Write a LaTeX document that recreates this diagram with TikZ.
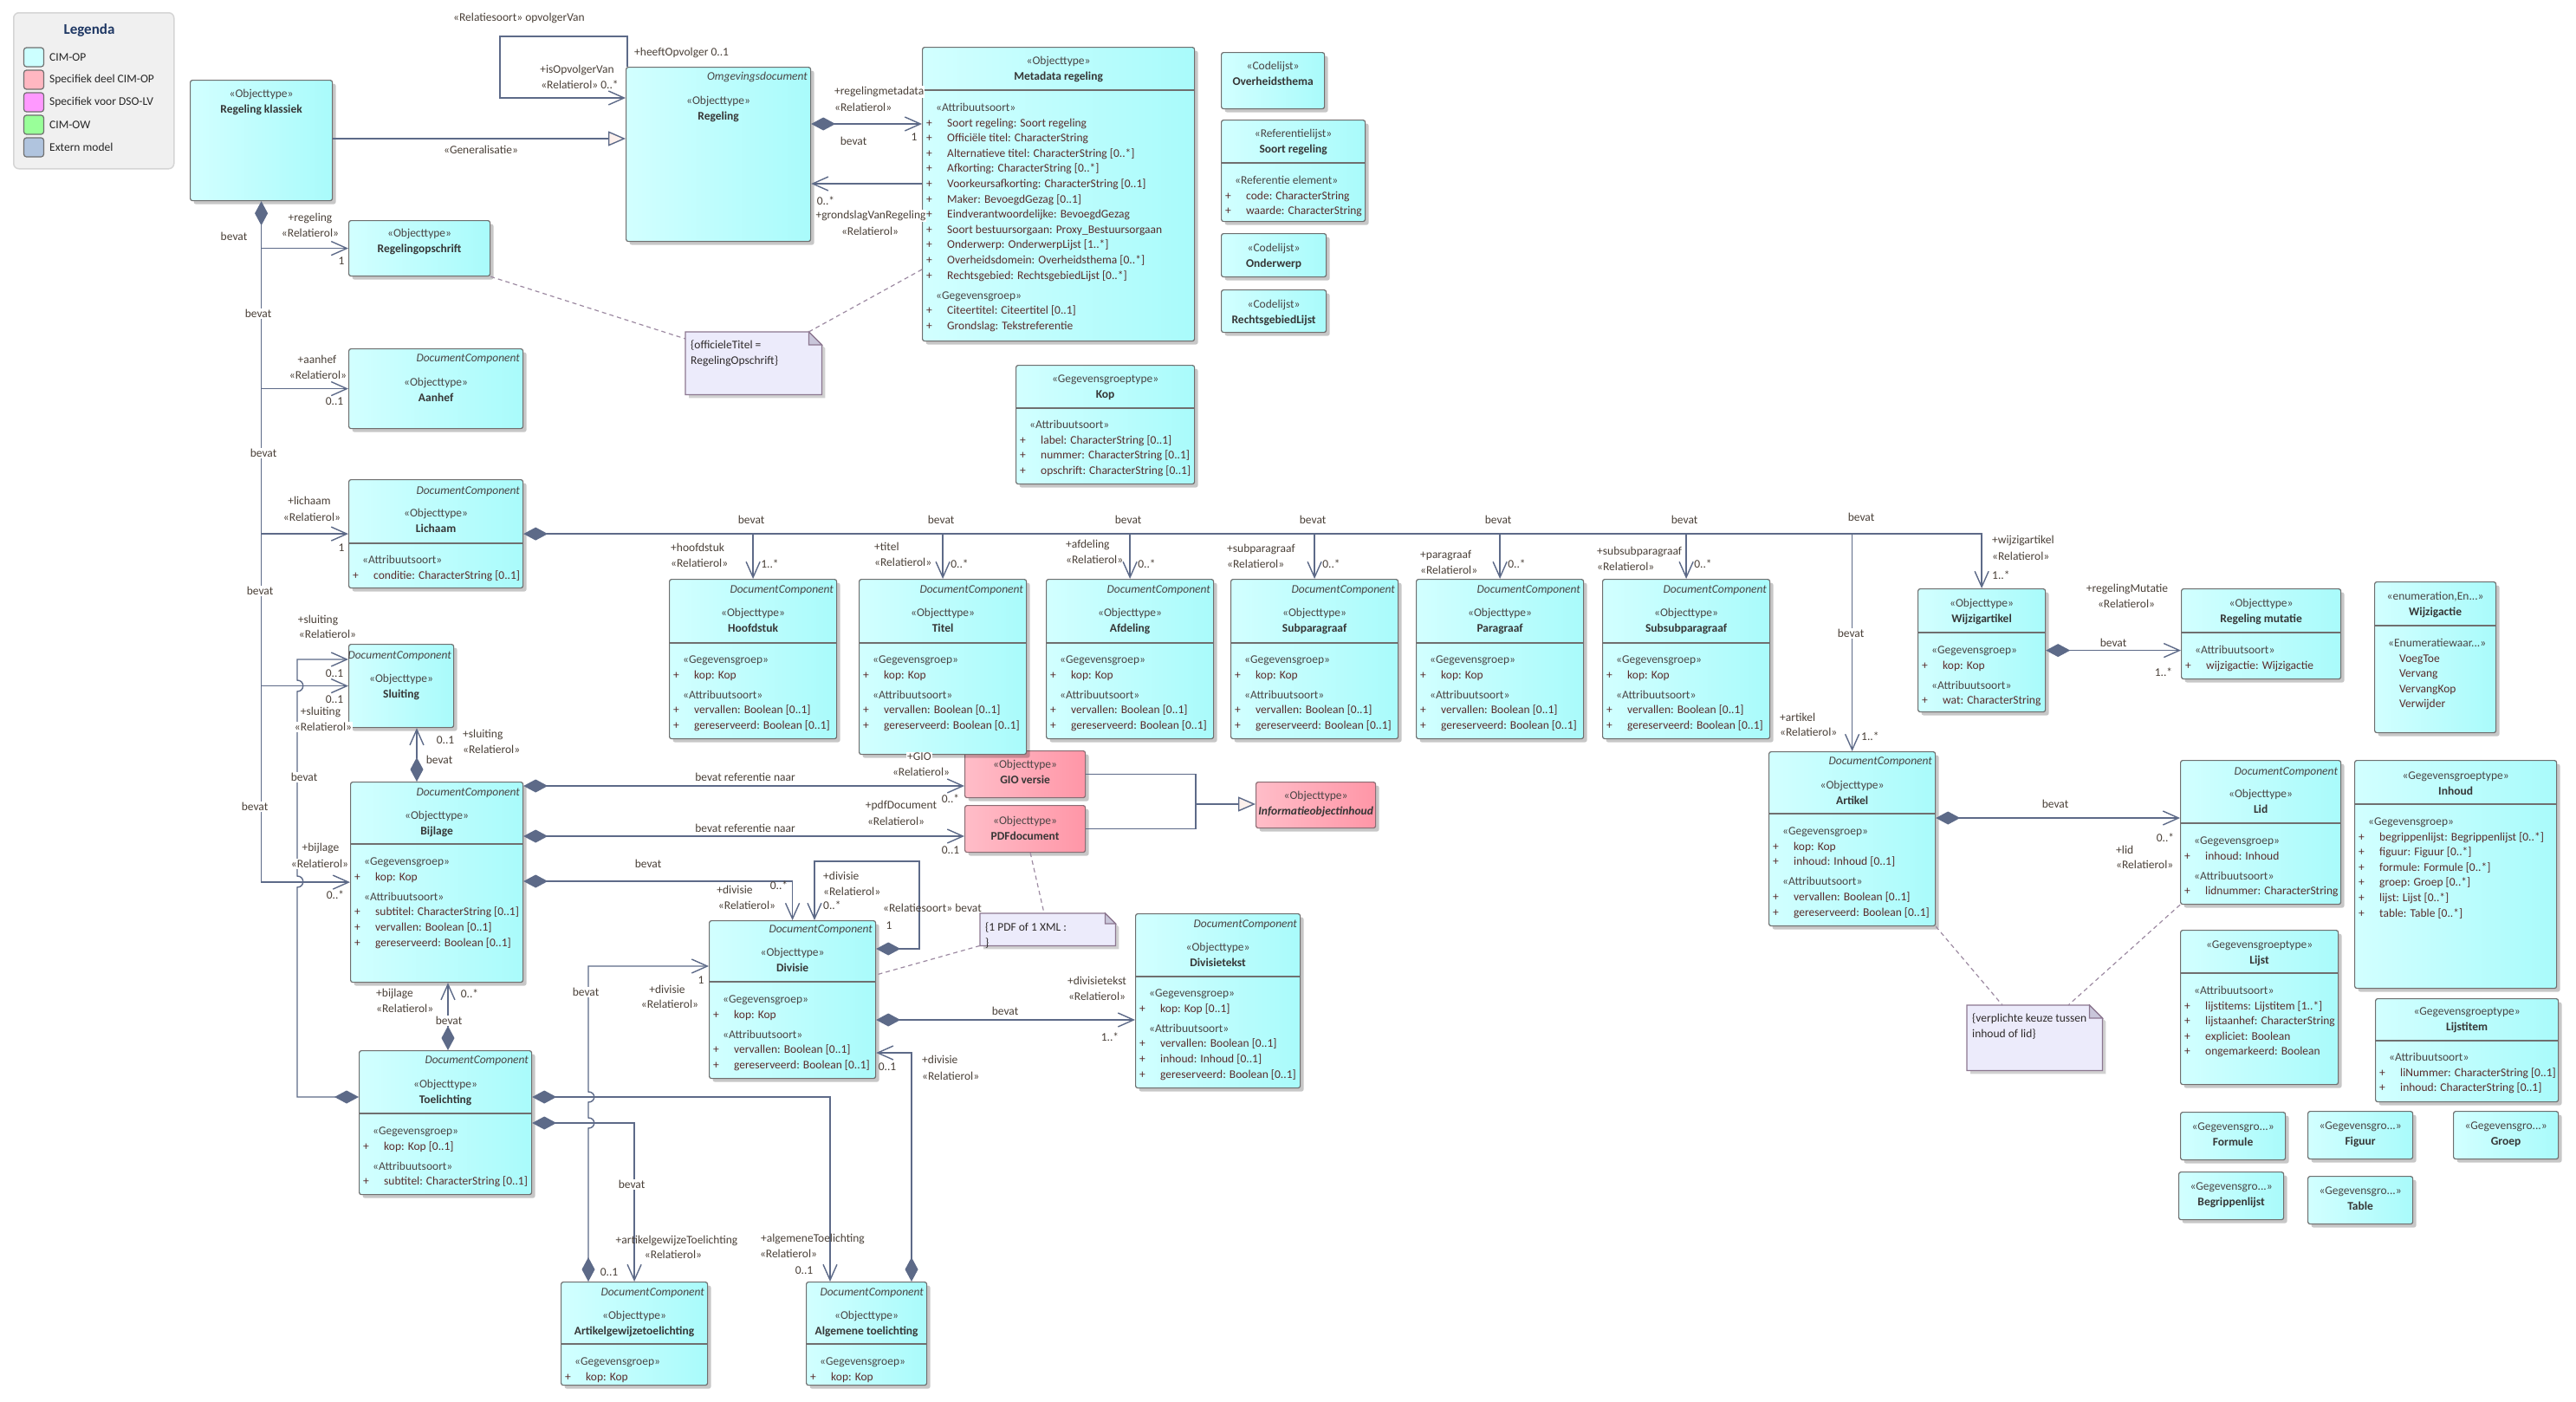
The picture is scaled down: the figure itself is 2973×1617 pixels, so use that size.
\documentclass[tikz,border=0pt]{standalone}
\usepackage{fontspec}
\setmainfont{Carlito}
\usepackage{tikz}
\usetikzlibrary{arrows.meta,calc,positioning,shadows}
\definecolor{CyanL}{HTML}{D2FFFF}
\definecolor{CyanR}{HTML}{A9FBFB}
\definecolor{PinkL}{HTML}{FFBDC8}
\definecolor{PinkR}{HTML}{FF96A7}
\definecolor{BoxLine}{HTML}{6F6F6F}
\definecolor{PinkLine}{HTML}{8A6C73}
\definecolor{Conn}{HTML}{5D6A88}
\definecolor{GenFill}{HTML}{FCF0EC}
\definecolor{AttrInk}{HTML}{5A2B2B}
\definecolor{StereoInk}{HTML}{4A4545}
\definecolor{NameInk}{HTML}{363636}
\definecolor{LblInk}{HTML}{4A4038}
\definecolor{NoteFill}{HTML}{ECEBFB}
\definecolor{NoteFold}{HTML}{C9C6DA}
\definecolor{NoteLine}{HTML}{8C7790}
\definecolor{NoteDash}{HTML}{9D8AA2}
\definecolor{NoteInk}{HTML}{2E2A2A}
\definecolor{LegFill}{HTML}{F0F0F0}
\definecolor{LegLine}{HTML}{D5D5D5}
\definecolor{LegHead}{HTML}{1F3864}
\definecolor{SwCimOp}{HTML}{CCFFFF}
\definecolor{SwSpec}{HTML}{FFB7C1}
\definecolor{SwDso}{HTML}{FF99FF}
\definecolor{SwOw}{HTML}{99FF99}
\definecolor{SwExt}{HTML}{B0C4DE}
\newcommand\fs{\fontsize{13.5}{17.6}\selectfont}
\newcommand\pl{\makebox[24pt][l]{+}}
\newcommand\st[1]{\hspace*{11pt}\textcolor{StereoInk}{#1}}
\newcommand\nm[1]{\textcolor{NameInk}{\bfseries #1}}
\begin{document}
\begin{tikzpicture}[x=1pt,y=-1pt,every node/.style={font=\fs},
  cls/.style={draw=BoxLine,line width=1.2pt,rounded corners=2.5pt,left color=CyanL,right color=CyanR,anchor=north west,inner sep=0pt,drop shadow={shadow xshift=4pt,shadow yshift=-4pt,opacity=.22,fill=black}},
  pinkcls/.style={cls,draw=PinkLine,left color=PinkL,right color=PinkR},
  hd/.style={align=center,anchor=north,inner sep=0pt,text=StereoInk},
  dc/.style={anchor=east,inner sep=0pt,text=StereoInk,font=\fs\itshape},
  body/.style={align=left,anchor=north west,inner sep=0pt,text=AttrInk},
  sep/.style={draw=BoxLine,line width=1.2pt},
  conn/.style={draw=Conn,line width=1.4pt},
  assoc/.style={conn,-{Straight Barb[length=18pt,width=16pt]}},
  comp/.style={conn,{Diamond[length=28pt,width=15pt]}-{Straight Barb[length=18pt,width=16pt]}},
  gen/.style={conn,-{Triangle[length=20pt,width=17pt,fill=GenFill]}},
  lbl/.style={text=LblInk,inner sep=1pt},
  wlbl/.style={lbl,fill=white},
  notebg/.style={inner sep=0pt,anchor=north west,minimum width=0pt},
  notebox/.style={draw=NoteLine,line width=1.2pt,fill=NoteFill,drop shadow={shadow xshift=4pt,shadow yshift=-4pt,opacity=.18,fill=black}},
  notetxt/.style={align=left,anchor=north west,inner sep=0pt,text=NoteInk},
  notelink/.style={draw=NoteDash,line width=1.2pt,dash pattern=on 5pt off 4pt}]
\path[use as bounding box,fill=white] (0,0) rectangle (2973,1617);

\node[draw=LegLine,line width=1.5pt,fill=LegFill,rounded corners=6pt,minimum width=185pt,minimum height=180pt,anchor=north west,inner sep=0pt] (leg) at (15,14) {};
\node[font=\fontsize{17}{20}\selectfont\bfseries,text=LegHead] (leg-t) at (103,35) {Legenda};
\foreach \c/\t [count=\i] in {SwCimOp/CIM-OP,SwSpec/Specifiek deel CIM-OP,SwDso/Specifiek voor DSO-LV,SwOw/CIM-OW,SwExt/Extern model} {
  \node[draw=BoxLine,fill=\c,rounded corners=3pt,line width=1.2pt,minimum width=23pt,minimum height=22pt,inner sep=0pt] (sw\i) at (39,40+26*\i) {};
  \node[anchor=west,inner sep=0pt,text=black!85] (lg\i) at (57,40+26*\i) {\t};
}

\node[cls,minimum width=164pt,minimum height=139pt] (rk) at (219,92) {};
\node[hd] (rk-h) at ([yshift=-8pt]rk.north) {\strut«Objecttype»\\\nm{Regeling klassiek}};

\node[cls,minimum width=213pt,minimum height=201pt] (reg) at (722,77) {};
\node[dc] (reg-dc) at ([xshift=-4pt,yshift=-12pt]reg.north east) {Omgevingsdocument};
\node[hd] (reg-h) at ([yshift=-31pt]reg.north) {\strut«Objecttype»\\\nm{Regeling}};

\node[cls,minimum width=314pt,minimum height=339pt] (md) at (1064,54) {};
\node[hd] (md-h) at ([yshift=-8pt]md.north) {\strut«Objecttype»\\\nm{Metadata regeling}};
\draw[sep] ([yshift=-50pt]md.north west) -- ([yshift=-50pt]md.north east);
\node[body] (md-b) at ([xshift=5pt,yshift=-62pt]md.north west) {\strut\st{«Attribuutsoort»}\\
  \pl Soort regeling: Soort regeling\\
  \pl Officiële titel: CharacterString\\
  \pl Alternatieve titel: CharacterString [0..*]\\
  \pl Afkorting: CharacterString [0..*]\\
  \pl Voorkeursafkorting: CharacterString [0..1]\\
  \pl Maker: BevoegdGezag [0..1]\\
  \pl Eindverantwoordelijke: BevoegdGezag\\
  \pl Soort bestuursorgaan: Proxy\_Bestuursorgaan\\
  \pl Onderwerp: OnderwerpLijst [1..*]\\
  \pl Overheidsdomein: Overheidsthema [0..*]\\
  \pl Rechtsgebied: RechtsgebiedLijst [0..*]\\[5.5pt]
  \st{«Gegevensgroep»}\\
  \pl Citeertitel: Citeertitel [0..1]\\
  \pl Grondslag: Tekstreferentie};

\node[cls,minimum width=119pt,minimum height=65pt] (ov) at (1409,60) {};
\node[hd] (ov-h) at ([yshift=-8pt]ov.north) {\strut«Codelijst»\\\nm{Overheidsthema}};
\node[cls,minimum width=166pt,minimum height=117pt] (sr) at (1409,138) {};
\node[hd] (sr-h) at ([yshift=-8pt]sr.north) {\strut«Referentielijst»\\\nm{Soort regeling}};
\draw[sep] ([yshift=-50pt]sr.north west) -- ([yshift=-50pt]sr.north east);
\node[body] (sr-b) at ([xshift=5pt,yshift=-62pt]sr.north west) {\strut\st{«Referentie element»}\\\pl code: CharacterString\\\pl waarde: CharacterString};
\node[cls,minimum width=121pt,minimum height=50pt] (onw) at (1409,269) {};
\node[hd] (onw-h) at ([yshift=-9pt]onw.north) {\strut«Codelijst»\\\nm{Onderwerp}};
\node[cls,minimum width=121pt,minimum height=49pt] (rgl) at (1409,334) {};
\node[hd] (rgl-h) at ([yshift=-9pt]rgl.north) {\strut«Codelijst»\\\nm{RechtsgebiedLijst}};

\node[cls,minimum width=206pt,minimum height=137pt] (kop) at (1172,421) {};
\node[hd] (kop-h) at ([yshift=-8pt]kop.north) {\strut«Gegevensgroeptype»\\\nm{Kop}};
\draw[sep] ([yshift=-50pt]kop.north west) -- ([yshift=-50pt]kop.north east);
\node[body] (kop-b) at ([xshift=5pt,yshift=-61pt]kop.north west) {\strut\st{«Attribuutsoort»}\\\pl label: CharacterString [0..1]\\\pl nummer: CharacterString [0..1]\\\pl opschrift: CharacterString [0..1]};

\node[cls,minimum width=163pt,minimum height=64pt] (ro) at (402,254) {};
\node[hd] (ro-h) at ([yshift=-7pt]ro.north) {\strut«Objecttype»\\\nm{Regelingopschrift}};

\node[cls,minimum width=201pt,minimum height=92pt] (aan) at (402,402) {};
\node[dc] (aan-dc) at ([xshift=-4pt,yshift=-12pt]aan.north east) {DocumentComponent};
\node[hd] (aan-h) at ([yshift=-31pt]aan.north) {\strut«Objecttype»\\\nm{Aanhef}};

\node[cls,minimum width=201pt,minimum height=125pt] (lich) at (402,553) {};
\node[dc] (lich-dc) at ([xshift=-4pt,yshift=-14pt]lich.north east) {DocumentComponent};
\node[hd] (lich-h) at ([yshift=-31pt]lich.north) {\strut«Objecttype»\\\nm{Lichaam}};
\draw[sep] ([yshift=-74pt]lich.north west) -- ([yshift=-74pt]lich.north east);
\node[body] (lich-b) at ([xshift=5pt,yshift=-85pt]lich.north west) {\strut\st{«Attribuutsoort»}\\\pl conditie: CharacterString [0..1]};

\node[cls,minimum width=121pt,minimum height=96pt] (sl) at (402,743) {};
\node[dc] (sl-dc) at ([xshift=-3pt,yshift=-14pt]sl.north east) {DocumentComponent};
\node[hd] (sl-h) at ([yshift=-32pt]sl.north) {\strut«Objecttype»\\\nm{Sluiting}};

\node[cls,minimum width=199pt,minimum height=231pt] (bij) at (404,902) {};
\node[dc] (bij-dc) at ([xshift=-4pt,yshift=-13pt]bij.north east) {DocumentComponent};
\node[hd] (bij-h) at ([yshift=-31pt]bij.north) {\strut«Objecttype»\\\nm{Bijlage}};
\draw[sep] ([yshift=-72pt]bij.north west) -- ([yshift=-72pt]bij.north east);
\node[body] (bij-b) at ([xshift=5pt,yshift=-84pt]bij.north west) {\strut\st{«Gegevensgroep»}\\\pl kop: Kop\\[5.5pt]\st{«Attribuutsoort»}\\\pl subtitel: CharacterString [0..1]\\\pl vervallen: Boolean [0..1]\\\pl gereserveerd: Boolean [0..1]};

\node[pinkcls,minimum width=139pt,minimum height=54pt] (gio) at (1113,866) {};
\node[hd] (gio-h) at ([yshift=-8pt]gio.north) {\strut«Objecttype»\\\nm{GIO versie}};
\node[pinkcls,minimum width=139pt,minimum height=54pt] (pdf) at (1113,929) {};
\node[hd] (pdf-h) at ([yshift=-10pt]pdf.north) {\strut«Objecttype»\\\nm{PDFdocument}};
\node[pinkcls,minimum width=138pt,minimum height=53pt] (info) at (1449,902) {};
\node[hd] (info-h) at ([yshift=-8pt]info.north) {\strut«Objecttype»\\\nm{\itshape Informatieobjectinhoud}};

\node[cls,minimum width=192pt,minimum height=182pt] (div) at (818,1062) {};
\node[dc] (div-dc) at ([xshift=-4pt,yshift=-11pt]div.north east) {DocumentComponent};
\node[hd] (div-h) at ([yshift=-29pt]div.north) {\strut«Objecttype»\\\nm{Divisie}};
\draw[sep] ([yshift=-71pt]div.north west) -- ([yshift=-71pt]div.north east);
\node[body] (div-b) at ([xshift=5pt,yshift=-83pt]div.north west) {\strut\st{«Gegevensgroep»}\\\pl kop: Kop\\[5.5pt]\st{«Attribuutsoort»}\\\pl vervallen: Boolean [0..1]\\\pl gereserveerd: Boolean [0..1]};

\node[cls,minimum width=190pt,minimum height=201pt] (dt) at (1310,1054) {};
\node[dc] (dt-dc) at ([xshift=-4pt,yshift=-13pt]dt.north east) {DocumentComponent};
\node[hd] (dt-h) at ([yshift=-31pt]dt.north) {\strut«Objecttype»\\\nm{Divisietekst}};
\draw[sep] ([yshift=-73pt]dt.north west) -- ([yshift=-73pt]dt.north east);
\node[body] (dt-b) at ([xshift=5pt,yshift=-84pt]dt.north west) {\strut\st{«Gegevensgroep»}\\\pl kop: Kop [0..1]\\[5.5pt]\st{«Attribuutsoort»}\\\pl vervallen: Boolean [0..1]\\\pl inhoud: Inhoud [0..1]\\\pl gereserveerd: Boolean [0..1]};

\node[cls,minimum width=199pt,minimum height=166pt] (tl) at (414,1212) {};
\node[dc] (tl-dc) at ([xshift=-4pt,yshift=-12pt]tl.north east) {DocumentComponent};
\node[hd] (tl-h) at ([yshift=-31pt]tl.north) {\strut«Objecttype»\\\nm{Toelichting}};
\draw[sep] ([yshift=-73pt]tl.north west) -- ([yshift=-73pt]tl.north east);
\node[body] (tl-b) at ([xshift=5pt,yshift=-85pt]tl.north west) {\strut\st{«Gegevensgroep»}\\\pl kop: Kop [0..1]\\[5.5pt]\st{«Attribuutsoort»}\\\pl subtitel: CharacterString [0..1]};

\node[cls,minimum width=169pt,minimum height=119pt] (agt) at (647,1479) {};
\node[dc] (agt-dc) at ([xshift=-4pt,yshift=-13pt]agt.north east) {DocumentComponent};
\node[hd] (agt-h) at ([yshift=-31pt]agt.north) {\strut«Objecttype»\\\nm{Artikelgewijzetoelichting}};
\draw[sep] ([yshift=-72pt]agt.north west) -- ([yshift=-72pt]agt.north east);
\node[body] (agt-b) at ([xshift=5pt,yshift=-84pt]agt.north west) {\strut\st{«Gegevensgroep»}\\\pl kop: Kop};

\node[cls,minimum width=139pt,minimum height=119pt] (agl) at (930,1479) {};
\node[dc] (agl-dc) at ([xshift=-4pt,yshift=-13pt]agl.north east) {DocumentComponent};
\node[hd] (agl-h) at ([yshift=-31pt]agl.north) {\strut«Objecttype»\\\nm{Algemene toelichting}};
\draw[sep] ([yshift=-72pt]agl.north west) -- ([yshift=-72pt]agl.north east);
\node[body] (agl-b) at ([xshift=5pt,yshift=-84pt]agl.north west) {\strut\st{«Gegevensgroep»}\\\pl kop: Kop};

\foreach \x/\n/\t/\r/\m/\rx/\ry/\h in {772/hs/Hoofdstuk/hoofdstuk/1..*/774/632/184,991/ti/Titel/titel/0..*/1009/631/202,1207/afd/Afdeling/afdeling/0..*/1230/628/184,1420/sub/Subparagraaf/subparagraaf/0..*/1416/633/184,1634/par/Paragraaf/paragraaf/0..*/1639/640/184,1849/ssub/Subsubparagraaf/subsubparagraaf/0..*/1843/636/184} {
  \node[cls,minimum width=193pt,minimum height=\h*1pt] (\n) at (\x,668) {};
  \node[dc] (\n-dc) at ([xshift=-4pt,yshift=-13pt]\n.north east) {DocumentComponent};
  \node[hd] (\n-h) at ([yshift=-31pt]\n.north) {\strut«Objecttype»\\\nm{\t}};
  \draw[sep] ([yshift=-74pt]\n.north west) -- ([yshift=-74pt]\n.north east);
  \node[body] (\n-b) at ([xshift=5pt,yshift=-85pt]\n.north west) {\strut\st{«Gegevensgroep»}\\\pl kop: Kop\\[5.5pt]\st{«Attribuutsoort»}\\\pl vervallen: Boolean [0..1]\\\pl gereserveerd: Boolean [0..1]};
  \node[lbl,inner sep=0pt,align=left,anchor=north west] (\n-r) at (\rx,\ry-8) {\strut+\r\\«Relatierol»};
  \node[lbl,anchor=west] (\n-m) at ([xshift=8pt,yshift=17pt]\n.north) {\m};
  \node[lbl] (\n-bv) at ([xshift=-2pt,yshift=68pt]\n.north) {bevat};
}

\node[cls,minimum width=147pt,minimum height=142pt] (wa) at (2213,679) {};
\node[hd] (wa-h) at ([yshift=-9pt]wa.north) {\strut«Objecttype»\\\nm{Wijzigartikel}};
\draw[sep] ([yshift=-51pt]wa.north west) -- ([yshift=-51pt]wa.north east);
\node[body] (wa-b) at ([xshift=5pt,yshift=-63pt]wa.north west) {\strut\st{«Gegevensgroep»}\\\pl kop: Kop\\[5.5pt]\st{«Attribuutsoort»}\\\pl wat: CharacterString};

\node[cls,minimum width=184pt,minimum height=104pt] (rm) at (2517,679) {};
\node[hd] (rm-h) at ([yshift=-9pt]rm.north) {\strut«Objecttype»\\\nm{Regeling mutatie}};
\draw[sep] ([yshift=-51pt]rm.north west) -- ([yshift=-51pt]rm.north east);
\node[body] (rm-b) at ([xshift=5pt,yshift=-63pt]rm.north west) {\strut\st{«Attribuutsoort»}\\\pl wijzigactie: Wijzigactie};

\node[cls,minimum width=140pt,minimum height=174pt] (wij) at (2740,671) {};
\node[hd] (wij-h) at ([yshift=-9pt]wij.north) {\strut«enumeration,En...»\\\nm{Wijzigactie}};
\draw[sep] ([yshift=-51pt]wij.north west) -- ([yshift=-51pt]wij.north east);
\node[body] (wij-b) at ([xshift=5pt,yshift=-63pt]wij.north west) {\strut\st{«Enumeratiewaar...»}\\\hspace*{24pt}VoegToe\\\hspace*{24pt}Vervang\\\hspace*{24pt}VervangKop\\\hspace*{24pt}Verwijder};

\node[cls,minimum width=192pt,minimum height=201pt] (art) at (2041,867) {};
\node[dc] (art-dc) at ([xshift=-4pt,yshift=-12pt]art.north east) {DocumentComponent};
\node[hd] (art-h) at ([yshift=-31pt]art.north) {\strut«Objecttype»\\\nm{Artikel}};
\draw[sep] ([yshift=-72pt]art.north west) -- ([yshift=-72pt]art.north east);
\node[body] (art-b) at ([xshift=5pt,yshift=-84pt]art.north west) {\strut\st{«Gegevensgroep»}\\\pl kop: Kop\\\pl inhoud: Inhoud [0..1]\\[5.5pt]\st{«Attribuutsoort»}\\\pl vervallen: Boolean [0..1]\\\pl gereserveerd: Boolean [0..1]};

\node[cls,minimum width=185pt,minimum height=166pt] (lid) at (2516,877) {};
\node[dc] (lid-dc) at ([xshift=-4pt,yshift=-14pt]lid.north east) {DocumentComponent};
\node[hd] (lid-h) at ([yshift=-31pt]lid.north) {\strut«Objecttype»\\\nm{Lid}};
\draw[sep] ([yshift=-73pt]lid.north west) -- ([yshift=-73pt]lid.north east);
\node[body] (lid-b) at ([xshift=5pt,yshift=-85pt]lid.north west) {\strut\st{«Gegevensgroep»}\\\pl inhoud: Inhoud\\[5.5pt]\st{«Attribuutsoort»}\\\pl lidnummer: CharacterString};

\node[cls,minimum width=233pt,minimum height=263pt] (inh) at (2717,877) {};
\node[hd] (inh-h) at ([yshift=-10pt]inh.north) {\strut«Gegevensgroeptype»\\\nm{Inhoud}};
\draw[sep] ([yshift=-51pt]inh.north west) -- ([yshift=-51pt]inh.north east);
\node[body] (inh-b) at ([xshift=5pt,yshift=-63pt]inh.north west) {\strut\st{«Gegevensgroep»}\\\pl begrippenlijst: Begrippenlijst [0..*]\\\pl figuur: Figuur [0..*]\\\pl formule: Formule [0..*]\\\pl groep: Groep [0..*]\\\pl lijst: Lijst [0..*]\\\pl table: Table [0..*]};

\node[cls,minimum width=182pt,minimum height=178pt] (lij) at (2516,1073) {};
\node[hd] (lij-h) at ([yshift=-9pt]lij.north) {\strut«Gegevensgroeptype»\\\nm{Lijst}};
\draw[sep] ([yshift=-50pt]lij.north west) -- ([yshift=-50pt]lij.north east);
\node[body] (lij-b) at ([xshift=5pt,yshift=-62pt]lij.north west) {\strut\st{«Attribuutsoort»}\\\pl lijstitems: Lijstitem [1..*]\\\pl lijstaanhef: CharacterString\\\pl expliciet: Boolean\\\pl ongemarkeerd: Boolean};

\node[cls,minimum width=211pt,minimum height=119pt] (lit) at (2741,1152) {};
\node[hd] (lit-h) at ([yshift=-7pt]lit.north) {\strut«Gegevensgroeptype»\\\nm{Lijstitem}};
\draw[sep] ([yshift=-49pt]lit.north west) -- ([yshift=-49pt]lit.north east);
\node[body] (lit-b) at ([xshift=5pt,yshift=-60pt]lit.north west) {\strut\st{«Attribuutsoort»}\\\pl liNummer: CharacterString [0..1]\\\pl inhoud: CharacterString [0..1]};

\foreach \n/\t/\x/\y in {for/Formule/2516/1283,fig/Figuur/2663/1282,grp/Groep/2831/1282,bgl/Begrippenlijst/2514/1352,tab/Table/2663/1357} {
  \node[cls,minimum width=121pt,minimum height=55pt] (\n) at (\x,\y) {};
  \node[hd] (\n-h) at ([yshift=-9pt]\n.north) {\strut«Gegevensgro...»\\\nm{\t}};
}

\node[notebg,minimum width=157pt,minimum height=72pt] (n1) at (791,383) {};
\draw[notebox] (n1.north west) -- ([xshift=-15pt]n1.north east) -- ([yshift=-15pt]n1.north east) -- (n1.south east) -- (n1.south west) -- cycle;
\draw[draw=NoteLine,line width=1.2pt,fill=NoteFold] ([xshift=-15pt]n1.north east) |- ([yshift=-15pt]n1.north east) -- cycle;
\node[notetxt] (n1-t) at ([xshift=6pt,yshift=-7pt]n1.north west) {\strut\{officieleTitel =\\RegelingOpschrift\}};

\node[notebg,minimum width=156pt,minimum height=37pt] (n2) at (1131,1054) {};
\draw[notebox] (n2.north west) -- ([xshift=-12pt]n2.north east) -- ([yshift=-12pt]n2.north east) -- (n2.south east) -- (n2.south west) -- cycle;
\draw[draw=NoteLine,line width=1.2pt,fill=NoteFold] ([xshift=-12pt]n2.north east) |- ([yshift=-12pt]n2.north east) -- cycle;
\node[notetxt] (n2-t) at ([xshift=6pt,yshift=-8pt]n2.north west) {\strut\{1 PDF of 1 XML :\\\}};

\node[notebg,minimum width=156pt,minimum height=75pt] (n3) at (2270,1160) {};
\draw[notebox] (n3.north west) -- ([xshift=-15pt]n3.north east) -- ([yshift=-15pt]n3.north east) -- (n3.south east) -- (n3.south west) -- cycle;
\draw[draw=NoteLine,line width=1.2pt,fill=NoteFold] ([xshift=-15pt]n3.north east) |- ([yshift=-15pt]n3.north east) -- cycle;
\node[notetxt] (n3-t) at ([xshift=6pt,yshift=-7pt]n3.north west) {\strut\{verplichte keuze tussen\\inhoud of lid\}};

\draw[assoc] (724,0 |- reg.north) |- (577,42) |- (reg.west |- 0,113);
\draw[gen] (rk.east |- 0,160) -- (reg.west |- 0,160);
\draw[comp] (reg.east |- 0,143) -- (md.west |- 0,143);
\draw[assoc] (md.west |- 0,212) -- (reg.east |- 0,212);
\draw[comp] (rk.south) |- (bij.west);
\foreach \n in {ro,aan,lich,sl} \draw[assoc] (rk.south |- \n.west) -- (\n.west);
\draw[comp] (tl.west |- 0,1266) -| (343,1024) .. controls (352,1024) and (352,1011) .. (343,1011) -- (343,798) .. controls (352,798) and (352,785) .. (343,785) |- (sl.west |- 0,761);
\draw[comp] (481,0 |- bij.north) -- (481,0 |- sl.south);
\draw[comp] (517,0 |- tl.north) -- (517,0 |- bij.south);
\draw[comp] (bij.east |- 0,907) -- (gio.west |- 0,907);
\draw[comp] (bij.east |- 0,965) -- (pdf.west |- 0,965);
\coordinate (gj) at (1380,928);
\draw[conn] (gio.east) -| (gj);
\draw[conn] (pdf.east) -| (gj);
\draw[gen] (gj) -- (gj -| info.west);
\draw[comp] (bij.east |- 0,1017) -| (div.north);
\draw[comp] (div.east |- 0,1095) -| (1061,994) -| (940,0 |- div.north);
\draw[comp] (679,0 |- agt.north) -- (679,1302) .. controls (688,1302) and (688,1290) .. (679,1290) -- (679,1272) .. controls (688,1272) and (688,1260) .. (679,1260) |- (div.west |- 0,1115);
\draw[comp] (1052,0 |- agl.north) |- (div.east |- 0,1215);
\draw[comp] (tl.east |- 0,1266) -| (958,0 |- agl.north);
\draw[comp] (tl.east |- 0,1296) -| (agt.north);
\draw[comp] (div.east |- 0,1177) -- (dt.west |- 0,1177);
\draw[comp] (lich.east) -| (wa.north);
\foreach \n in {hs,ti,afd,sub,par,ssub,art} \draw[assoc] (lich.east -| \n.north) -- (\n.north);
\draw[comp] (wa.east) -- (wa.east -| rm.west);
\draw[comp] (art.east |- 0,944) -- (lid.west |- 0,944);

\draw[notelink] (ro.south east) -- ([yshift=-8pt]n1.north west);
\draw[notelink] (md.west |- 0,311) -- ([xshift=-15pt]n1.north east);
\draw[notelink] ([xshift=6pt]pdf.south) -- ([xshift=74pt]n2.north west);
\draw[notelink] (n2.south west) -- (div.east |- 0,1125);
\draw[notelink] (art.south east) -- ([xshift=41pt]n3.north west);
\draw[notelink] (lid.south west) -- ([xshift=117pt]n3.north west);

\foreach \x/\y/\t [count=\i] in {599/21/«Relatiesoort» opvolgerVan,666/81/+isOpvolgerVan,669/98/«Relatierol» 0..*,555/173/«Generalisatie»,985/163/bevat,1055/158/1,953/232/0..*,1004/267/«Relatierol»,270/273/bevat,358/252/+regeling,358/269/«Relatierol»,394/301/1,366/415/+aanhef,386/463/0..1,357/578/+lichaam,360/597/«Relatierol»,394/632/1,367/716/+sluiting,378/732/«Relatierol»,386/777/0..1,386/807/0..1,370/822/+sluiting,370/979/+bijlage,387/1033/0..*,507/877/bevat,514/854/0..1,860/897/bevat referentie naar,1063/891/«Relatierol»,1097/922/0..*,860/956/bevat referentie naar,1040/930/+pdfDocument,1034/948/«Relatierol»,1097/981/0..1,748/997/bevat,848/1027/+divisie,862/1045/«Relatierol»,899/1022/0..*,1076/1048/«Relatiesoort» bevat,1026/1068/1,809/1131/1,770/1142/+divisie,773/1159/«Relatierol»,1024/1231/0..1,1160/1167/bevat,1266/1132/+divisietekst,1266/1150/«Relatierol»,1281/1197/1..*,542/1147/0..*,781/1432/+artikelgewijzeToelichting,777/1448/«Relatierol»,703/1468/0..1,938/1430/+algemeneToelichting,910/1447/«Relatierol»,928/1466/0..1,2148/597/bevat,2439/742/bevat,2455/680/+regelingMutatie,2454/697/«Relatierol»,2497/776/1..*,2372/928/bevat,2499/967/0..*}
  \node[lbl] (la\i) at (\x,\y) {\t};
\foreach \x/\y/\t [count=\i] in {1005/249/+grondslagVanRegeling,298/362/bevat,304/523/bevat,300/682/bevat,294/931/bevat,367/433/«Relatierol»,373/839/«Relatierol»,369/997/«Relatierol»,351/897/bevat,1061/873/+GIO,676/1145/bevat,518/1178/bevat,729/1367/bevat,2136/731/bevat}
  \node[wlbl] (lw\i) at (\x,\y) {\t};
\foreach \x/\y/\t [count=\i] in {731/61/+heeftOpvolger 0..1,962/124/«Relatierol»,533/848/+sluiting,533/865/«Relatierol»,949/1011/+divisie,949/1029/«Relatierol»,949/1045/0..*,1063/1223/+divisie,1063/1242/«Relatierol»,433/1147/+bijlage,433/1164/«Relatierol»,2053/828/+artikel,2053/845/«Relatierol»,2147/850/1..*,2298/624/+wijzigartikel,2298/642/«Relatierol»,2298/664/1..*,2441/981/+lid,2441/998/«Relatierol»}
  \node[lbl,anchor=west] (lc\i) at (\x,\y) {\t};
\node[wlbl,anchor=west] (lrm) at (962,106) {+regelingmetadata};
\end{tikzpicture}
\end{document}
